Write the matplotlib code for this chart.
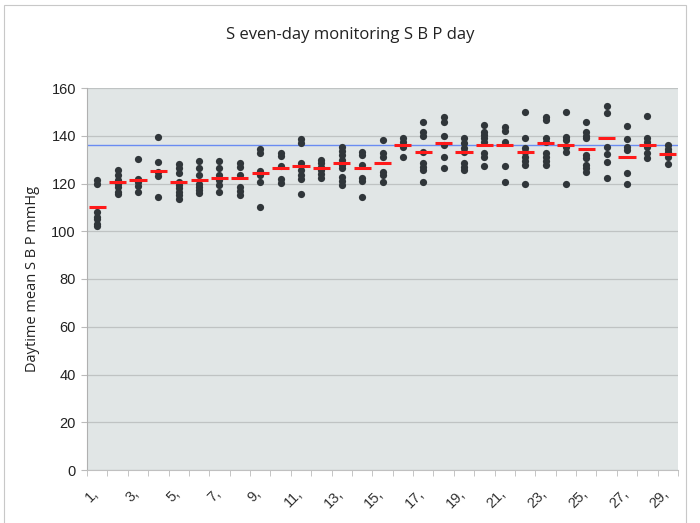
import matplotlib
matplotlib.use("Agg")
import matplotlib.pyplot as plt
from matplotlib.patches import Rectangle
from matplotlib.transforms import ScaledTranslation

categories = [f"{i}," for i in range(1, 30)]

values = [
    [121.5, 119.8, 108, 106, 105, 103, 102],
    [125.5, 123.5, 121.5, 120, 118.5, 116.5, 115.5],
    [130.4, 121.8, 120.5, 118.8, 116.6],
    [139.3, 129.1, 125.0, 123.1, 114.5],
    [128.2, 126.5, 124.5, 120.8, 119.5, 118, 116.5, 115, 113.4],
    [129.6, 126.4, 123.5, 120.0, 118.6, 117.2, 116.2],
    [129.6, 126.3, 123.6, 121.5, 119.4, 116.6],
    [128.7, 127.0, 123.6, 118.7, 117.0, 115.2],
    [134.3, 132.9, 125.4, 123.6, 120.8, 110.0],
    [132.6, 131.5, 127.5, 121.8, 120.1],
    [138.5, 137.1, 128.7, 125.7, 123.6, 121.8, 115.6],
    [129.8, 128.4, 127.0, 125.7, 123.8, 122.2],
    [135.4, 133.7, 131.9, 129.8, 127.7, 126.4, 122.6, 121.2, 119.4],
    [133.3, 131.9, 127.7, 122.2, 121.2, 114.5],
    [138.2, 132.6, 131.2, 125.0, 123.6, 120.8],
    [138.9, 137.5, 135.4, 131.2],
    [145.6, 141.7, 140.0, 133.3, 128.4, 127.0, 125.7, 120.5],
    [147.8, 145.8, 140.0, 136.1, 131.2, 126.4],
    [138.9, 137.0, 135.0, 133.0, 128.4, 127.0, 125.7],
    [144.5, 141.7, 140.3, 138.9, 137.5, 132.6, 131.2, 127.5],
    [143.5, 142.0, 137.5, 127.5, 120.5],
    [149.8, 139.2, 134.7, 133.0, 131.2, 129.4, 127.7, 119.7],
    [148.0, 146.6, 138.9, 137.5, 132.6, 131.2, 129.6, 127.7],
    [149.8, 139.6, 138.2, 135.4, 133.3, 119.7],
    [145.6, 141.7, 140.0, 138.9, 131.9, 130.5, 127.7, 126.4, 125.0],
    [152.6, 149.4, 135.4, 132.2, 129.1, 122.4],
    [144.1, 138.5, 135.2, 134.0, 124.3, 119.7],
    [148.4, 138.9, 137.5, 135.4, 132.6, 130.8],
    [136.1, 134.4, 133.0, 131.2, 128.2],
]

means = [110, 120.5, 121.3, 125.4, 120.5, 121.5, 122.4, 122.4, 124.5, 126.4,
         127.3, 126.4, 128.4, 126.4, 128.4, 136.1, 133.3, 137.1, 133.3, 136.1,
         136.1, 133.3, 137.1, 136.1, 134.3, 139.2, 131.2, 136.1, 132.2]

overall_mean = 136.1

y_ticks = [0, 20, 40, 60, 80, 100, 120, 140, 160]

fig = plt.figure(figsize=(7, 5.23), dpi=100)
fig.patch.set_facecolor("white")
fig.patches.append(Rectangle((4 / 700, -0.05), 682 / 700, 1.05 - 5 / 523,
                             transform=fig.transFigure, fill=False,
                             edgecolor="#c8c8c8", linewidth=0.8))

ax = fig.add_axes([87 / 700, 53 / 523, 591 / 700, 382 / 523])
ax.set_facecolor("#e1e6e6")

for i, vals in enumerate(values):
    ax.plot([i] * len(vals), vals, "o", color="#30363a", markersize=5.2,
            markeredgewidth=0, zorder=3)
for i, m in enumerate(means):
    ax.hlines(m, i - 0.42, i + 0.42, color="#ff1a1a", linewidth=2.2, zorder=4)

ax.axhline(overall_mean, color="#6a8cf2", linewidth=1.0, zorder=2)

ax.set_xlim(-0.5, len(categories) - 0.5)
ax.set_ylim(0, 160)
ax.set_yticks(y_ticks)
ax.set_yticklabels([str(t) for t in y_ticks], fontsize=10.5, family="Liberation Sans",
                   color="#222222")
ax.yaxis.grid(True, color="#bfc3c3", linewidth=0.9)
ax.set_axisbelow(True)

major = list(range(0, len(categories), 2))
ax.set_xticks(major)
ax.set_xticklabels([categories[i] for i in major], rotation=45, ha="right",
                   rotation_mode="anchor", fontsize=10.5, family="Liberation Sans",
                   color="#333333")
ax.tick_params(axis="x", which="major", length=0, pad=12)
offset = ScaledTranslation(-6 / 100, 0, fig.dpi_scale_trans)
for lab in ax.get_xticklabels():
    lab.set_transform(lab.get_transform() + offset)
ax.set_xticks([i + 0.5 for i in range(-1, len(categories))], minor=True)
ax.tick_params(axis="x", which="minor", length=4, color="#bbbbbb")
ax.tick_params(axis="y", length=4, color="#bbbbbb", pad=4)

for s in ["top", "right"]:
    ax.spines[s].set_visible(False)
ax.spines["left"].set_color("#b0b0b0")
ax.spines["bottom"].set_color("#c0c0c0")

ax.set_ylabel("Daytime mean S B P mmHg", fontsize=10.5, family="Open Sans",
              color="#222222", labelpad=8)
fig.text(0.5, 1 - 35 / 523, "S even-day monitoring S B P day", ha="center",
         va="center", fontsize=12, family="Open Sans", color="#222222")

fig.savefig("out.png", dpi=100)
